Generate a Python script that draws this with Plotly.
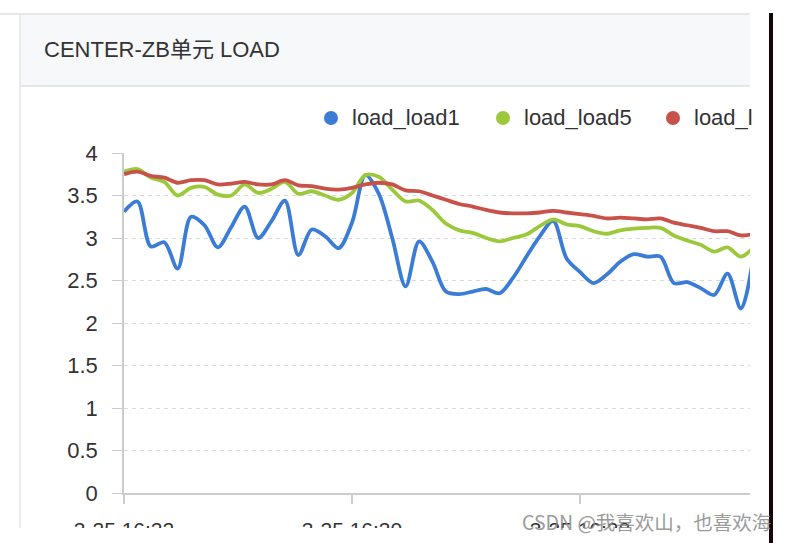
import plotly.graph_objects as go

# ---------------- data ----------------
series_names = ["load_load1", "load_load5", "load_load15"]
sample_index = list(range(48))
load1 = [3.31, 3.43, 2.90, 2.95, 2.64, 3.25, 3.15, 2.89, 3.13, 3.37,
         3.00, 3.20, 3.44, 2.80, 3.10, 3.02, 2.88, 3.18, 3.74, 3.52,
         3.00, 2.43, 2.96, 2.72, 2.37, 2.34, 2.37, 2.40, 2.35, 2.53,
         2.78, 3.02, 3.20, 2.76, 2.60, 2.47, 2.57, 2.72, 2.81, 2.78,
         2.78, 2.47, 2.48, 2.41, 2.33, 2.58, 2.17, 2.85]
load5 = [3.78, 3.81, 3.71, 3.66, 3.50, 3.59, 3.60, 3.51, 3.50, 3.63,
         3.53, 3.58, 3.66, 3.52, 3.55, 3.50, 3.45, 3.53, 3.74, 3.72,
         3.57, 3.43, 3.44, 3.33, 3.17, 3.09, 3.06, 3.00, 2.96, 3.00,
         3.04, 3.14, 3.22, 3.16, 3.14, 3.08, 3.05, 3.09, 3.11, 3.12,
         3.12, 3.03, 2.97, 2.92, 2.84, 2.89, 2.78, 2.90]
load15 = [3.75, 3.78, 3.73, 3.71, 3.65, 3.68, 3.68, 3.63, 3.64, 3.66,
          3.63, 3.63, 3.68, 3.62, 3.61, 3.58, 3.57, 3.59, 3.63, 3.65,
          3.63, 3.56, 3.55, 3.50, 3.45, 3.40, 3.37, 3.33, 3.30, 3.29,
          3.29, 3.30, 3.32, 3.30, 3.28, 3.26, 3.23, 3.24, 3.23, 3.22,
          3.23, 3.18, 3.15, 3.12, 3.08, 3.08, 3.03, 3.05]
tick_positions = [0, 17, 34]
tick_labels = ["3-25 16:22", "3-25 16:30", "3-25 16:38"]
y_ticks = [0, 0.5, 1, 1.5, 2, 2.5, 3, 3.5, 4]
y_tick_labels = ["0", "0.5", "1", "1.5", "2", "2.5", "3", "3.5", "4"]
title_text = "CENTER-ZB单元 LOAD"
watermark = "CSDN @我喜欢山，也喜欢海"

# ---------------- style ----------------
colors = ["#3b7cd6", "#9cc93c", "#c8514a"]
FONT = "Liberation Sans, Arial, Noto Sans CJK SC, sans-serif"
W, H = 788, 543
ML, MR, MT, MB = 124, 38, 153, 50
PW = W - ML - MR
PH = H - MT - MB


def fx(px):
    return (px - ML) / PW


def fy(py):
    return (H - MB - py) / PH


fig = go.Figure()
for name, vals, col in zip(series_names, [load1, load5, load15], colors):
    fig.add_trace(go.Scatter(
        x=sample_index, y=vals, name=name, mode="lines",
        line=dict(color=col, width=3.8, shape="spline", smoothing=0.9),
        showlegend=False, hoverinfo="x+y+name"))

shapes = []
# header background
shapes.append(dict(type="rect", xref="paper", yref="paper", layer="below",
                   x0=fx(20), x1=fx(750), y0=fy(86), y1=fy(14),
                   fillcolor="#f7f8fa", line=dict(width=0)))
# top border line
shapes.append(dict(type="line", xref="paper", yref="paper", layer="below",
                   x0=fx(0), x1=fx(750), y0=fy(14), y1=fy(14),
                   line=dict(color="#dedfe1", width=1.5)))
# header bottom border
shapes.append(dict(type="line", xref="paper", yref="paper", layer="below",
                   x0=fx(20), x1=fx(750), y0=fy(86), y1=fy(86),
                   line=dict(color="#dcdfe3", width=1.5)))
# left panel border
shapes.append(dict(type="line", xref="paper", yref="paper", layer="below",
                   x0=fx(20), x1=fx(20), y0=fy(14), y1=fy(528),
                   line=dict(color="#e0e0e0", width=1.2)))
# white band at bottom covering lower half of tick labels
shapes.append(dict(type="rect", xref="paper", yref="paper", layer="above",
                   x0=fx(0), x1=fx(769), y0=fy(543), y1=fy(528),
                   fillcolor="#ffffff", line=dict(width=0)))
# dark vertical bar at right
shapes.append(dict(type="rect", xref="paper", yref="paper", layer="above",
                   x0=fx(769), x1=fx(773), y0=fy(543), y1=fy(13),
                   fillcolor="#140806", line=dict(width=0)))

annotations = []
annotations.append(dict(text=title_text, xref="paper", yref="paper",
                        x=fx(42), y=fy(50), xanchor="left", yanchor="middle",
                        showarrow=False,
                        font=dict(family=FONT, size=22, color="#333333")))

# legend (drawn manually so that the last entry is clipped at the panel edge)
legend_dot_x = [331, 503, 673]
legend_y = 118
for i, (name, col) in enumerate(zip(series_names, colors)):
    shapes.append(dict(type="circle", xref="paper", yref="paper",
                       xsizemode="pixel", ysizemode="pixel",
                       xanchor=fx(legend_dot_x[i]), yanchor=fy(legend_y),
                       x0=-7, x1=7, y0=-7, y1=7,
                       fillcolor=col, line=dict(width=0), layer="above"))
    ann = dict(text=name, xref="paper", yref="paper",
               x=fx(legend_dot_x[i] + 19), y=fy(legend_y),
               xanchor="left", yanchor="middle", showarrow=False,
               align="left",
               font=dict(family=FONT, size=22, color="#333333"))
    if i == 2:
        ann["width"] = 750 - (legend_dot_x[i] + 19)
    annotations.append(ann)

annotations.append(dict(text=watermark, xref="paper", yref="paper",
                        x=fx(773), y=fy(521), xanchor="right", yanchor="middle",
                        showarrow=False, opacity=0.85,
                        font=dict(family="Noto Sans CJK SC, sans-serif",
                                  size=19.5, color="#8a8a8a")))

fig.update_layout(
    width=W, height=H, autosize=False,
    margin=dict(l=ML, r=MR, t=MT, b=MB, pad=0, autoexpand=False),
    paper_bgcolor="#ffffff", plot_bgcolor="#ffffff",
    showlegend=False,
    shapes=shapes, annotations=annotations,
    font=dict(family=FONT, size=20, color="#333333"),
    xaxis=dict(range=[0, (750 - 124) / (228 / 17)], tickmode="array",
               tickvals=tick_positions, ticktext=tick_labels,
               showgrid=False, zeroline=False, automargin=False,
               showline=True, linecolor="#cccccc", linewidth=1.5,
               ticks="outside", ticklen=9, tickcolor="#cccccc", tickwidth=1.5,
               tickfont=dict(family=FONT, size=21, color="#333333"),
               ticklabelstandoff=8, fixedrange=True),
    yaxis=dict(range=[0, 4], tickmode="array", tickvals=y_ticks,
               ticktext=y_tick_labels, automargin=False,
               showgrid=True, gridcolor="#d9d9d9", gridwidth=1.2,
               griddash="4px,4px", zeroline=False,
               showline=True, linecolor="#cccccc", linewidth=1.5,
               ticks="outside", ticklen=10, tickcolor="#cccccc", tickwidth=1.2,
               tickfont=dict(family=FONT, size=22, color="#333333"),
               ticklabelstandoff=10, fixedrange=True),
)

fig.write_html("out.html", config={"displayModeBar": False})
